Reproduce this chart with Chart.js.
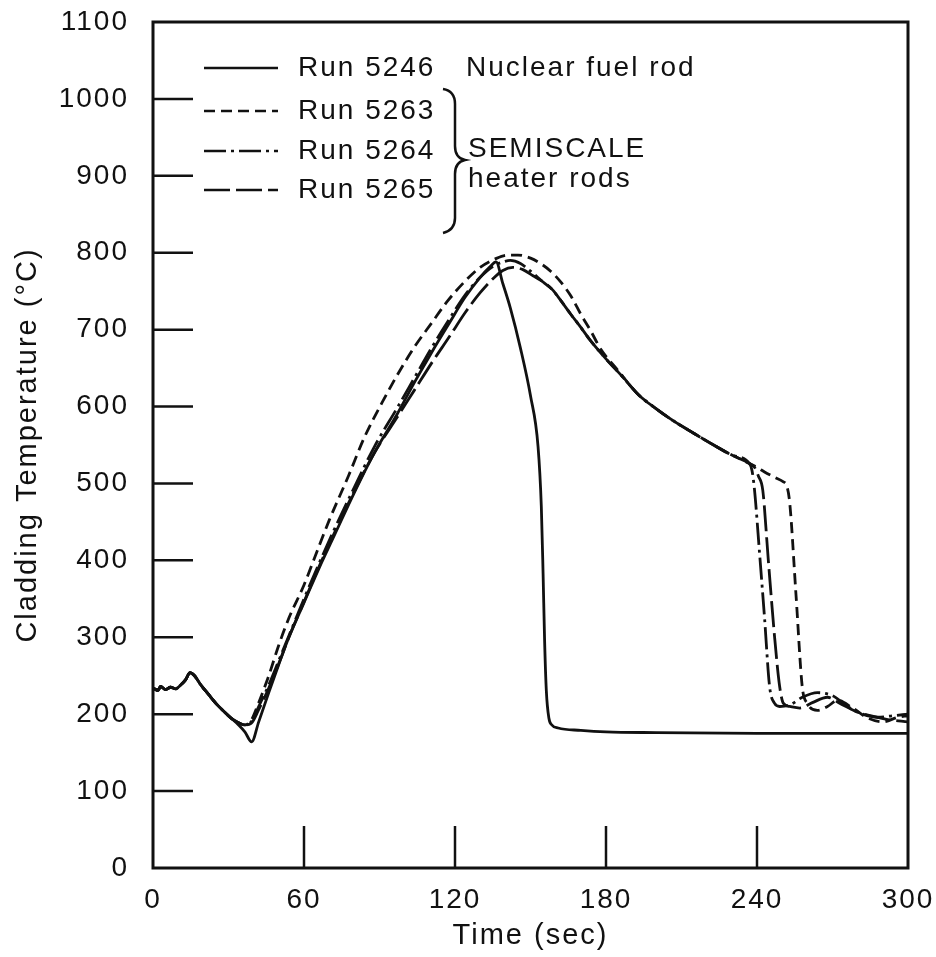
<!DOCTYPE html>
<html>
<head>
<meta charset="utf-8">
<script src="https://cdn.jsdelivr.net/npm/chart.js@4.4.0/dist/chart.umd.min.js"></script>
<style>
  html, body { margin: 0; padding: 0; background: #fff; }
</style>
</head>
<body>
<canvas id="chart" width="936" height="957"></canvas>
<script>
// tick values
const xTicks = [0, 60, 120, 180, 240, 300];
const yTicks = [0, 100, 200, 300, 400, 500, 600, 700, 800, 900, 1000, 1100];

// Run 5246 - nuclear fuel rod (solid)
const time5246 = [0, 2, 3, 5, 7, 9, 11, 13, 14.7, 16.5, 19, 22, 25, 28, 31, 34, 36.5, 39.2, 42, 46, 50, 54, 60, 66, 72, 80, 88, 97, 104, 111, 118, 124, 130, 134, 136.3, 139, 142, 146, 150, 153, 154.3, 155, 155.6, 156.3, 157.3, 158.5, 161, 170, 180, 200, 240, 300];
const temp5246 = [234, 231, 236, 232, 235, 233, 238, 245, 254, 250, 238, 226, 214, 204, 195, 186, 177, 164, 190, 228, 265, 300, 345, 390, 432, 488, 540, 590, 632, 672, 710, 742, 768, 782, 788, 760, 728, 676, 614, 548, 470, 383, 296, 230, 195, 186, 182, 179, 177, 176, 175, 175];

// Run 5263 - heater rod (short dash)
const time5263 = [0, 2, 3, 5, 7, 9, 11, 13, 14.7, 16.5, 19, 22, 25, 28, 31, 34, 36.5, 39, 42, 46, 50, 54, 60, 64.4, 70, 77.7, 84, 91, 97.6, 104, 110.8, 117, 124, 130, 136, 141, 145, 150, 154, 158, 162, 166, 170, 174, 178, 184, 193, 200, 206.5, 215, 223.8, 230, 237, 240, 243, 247, 250.5, 251.7, 253, 255.5, 258, 260, 264, 268, 272, 278, 284, 290, 296, 300];
const temp5263 = [234, 231, 236, 232, 235, 233, 238, 245, 254, 250, 238, 226, 214, 204, 195, 189, 186, 192, 215, 250, 290, 325, 368, 405, 452, 510, 560, 605, 644, 678, 709, 737, 763, 781, 792, 797, 797, 793, 786, 776, 762, 744, 720, 698, 674, 650, 615, 597, 582, 565, 548, 537, 526, 521, 515, 508, 502, 498, 475, 355, 235, 214, 205, 210, 218, 208, 195, 190, 196, 198];

// Run 5264 - heater rod (dash-dot)
const time5264 = [0, 2, 3, 5, 7, 9, 11, 13, 14.7, 16.5, 19, 22, 25, 28, 31, 34, 36.5, 39, 42, 46, 50, 54, 60, 66, 72, 80, 88, 97, 104, 111, 118, 124, 130, 135, 139, 142, 146, 150, 155, 158.7, 162, 166, 170, 173.3, 180, 186.5, 193, 200, 206.5, 215, 223.8, 230, 237, 238, 239, 241, 243, 245, 247, 249, 253, 258, 264, 270, 276, 282, 288, 294, 300];
const temp5264 = [234, 231, 236, 232, 235, 233, 238, 245, 254, 250, 238, 226, 214, 204, 195, 189, 186, 190, 210, 238, 270, 302, 350, 396, 440, 495, 548, 598, 638, 678, 715, 745, 768, 782, 788, 790, 786, 776, 762, 752, 738, 720, 703, 688, 662, 639, 615, 597, 582, 565, 548, 537, 526, 517, 492, 410, 325, 236, 214, 210, 212, 222, 228, 224, 210, 200, 196, 198, 200];

// Run 5265 - heater rod (long dash)
const time5265 = [0, 2, 3, 5, 7, 9, 11, 13, 14.7, 16.5, 19, 22, 25, 28, 31, 34, 36.5, 39, 42, 46, 50, 54, 60, 66, 72, 80, 88, 97, 104, 111, 118, 124, 130, 135, 139, 143, 147, 151, 155, 158.7, 162, 166, 170, 173.3, 180, 186.5, 193, 200, 206.5, 215, 223.8, 230, 237, 239, 240.5, 242.3, 244.5, 247, 249, 250.5, 253, 257, 262, 268, 273, 279, 285, 292, 300];
const temp5265 = [234, 231, 236, 232, 235, 233, 238, 245, 254, 250, 238, 226, 214, 204, 195, 189, 186, 188, 206, 234, 266, 300, 346, 392, 435, 490, 540, 586, 622, 658, 692, 722, 748, 766, 777, 781, 778, 770, 762, 752, 738, 720, 703, 688, 662, 639, 615, 597, 582, 565, 548, 537, 526, 521, 510, 491, 400, 300, 236, 214, 210, 208, 215, 222, 214, 204, 198, 193, 190];

const runLabels = ['Run 5246', 'Run 5263', 'Run 5264', 'Run 5265'];
const runTimes = [time5246, time5263, time5264, time5265];
const runTemps = [temp5246, temp5263, temp5264, temp5265];
const runDashes = [[], [11, 6], [22, 5, 3, 5], [26, 6]];

const FONT = "'Liberation Sans', Arial, Helvetica, sans-serif";
const INK = '#111';

const datasets = runLabels.map((label, i) => ({
    label,
    data: runTimes[i].map((t, j) => ({ x: t, y: runTemps[i][j] })),
    borderColor: INK,
    borderWidth: 2.8,
    borderDash: runDashes[i],
    pointRadius: 0,
    fill: false,
    cubicInterpolationMode: 'monotone',
}));

// the printed figure uses loosely tracked type
const tracking = {
    id: 'tracking',
    beforeLayout(chart) { chart.ctx.letterSpacing = '2px'; },
    beforeDraw(chart) { chart.ctx.letterSpacing = '2px'; },
};

// frame, inward tick marks and the hand-made key
const frameAndKey = {
    id: 'frameAndKey',
    afterDatasetsDraw(chart) {
        const { ctx, chartArea: a, scales: { x, y } } = chart;
        ctx.save();
        ctx.strokeStyle = INK;
        ctx.lineCap = 'butt';

        ctx.lineWidth = 3;
        ctx.strokeRect(a.left, a.top, a.right - a.left, a.bottom - a.top);

        ctx.lineWidth = 2.5;
        yTicks.slice(1, -1).forEach(v => {
            const py = y.getPixelForValue(v);
            ctx.beginPath();
            ctx.moveTo(a.left, py);
            ctx.lineTo(a.left + 40, py);
            ctx.stroke();
        });
        xTicks.slice(1, -1).forEach(v => {
            const px = x.getPixelForValue(v);
            ctx.beginPath();
            ctx.moveTo(px, a.bottom);
            ctx.lineTo(px, a.bottom - 42);
            ctx.stroke();
        });

        // key
        const rows = [68, 111, 151, 190];
        ctx.font = `28px ${FONT}`;
        ctx.letterSpacing = '2px';
        ctx.fillStyle = INK;
        ctx.textBaseline = 'middle';
        runLabels.forEach((label, i) => {
            ctx.setLineDash(runDashes[i]);
            ctx.beginPath();
            ctx.moveTo(204, rows[i]);
            ctx.lineTo(278, rows[i]);
            ctx.stroke();
            ctx.setLineDash([]);
            ctx.fillText(label, 298, rows[i]);
        });
        ctx.fillText('Nuclear fuel rod', 466, rows[0]);
        ctx.fillText('SEMISCALE', 468, 149);
        ctx.fillText('heater rods', 468, 179);

        // brace
        ctx.lineWidth = 2.5;
        ctx.beginPath();
        ctx.moveTo(443, 89);
        ctx.quadraticCurveTo(455, 91, 455, 104);
        ctx.lineTo(455, 146);
        ctx.quadraticCurveTo(455, 158, 465, 160);
        ctx.quadraticCurveTo(455, 162, 455, 174);
        ctx.lineTo(455, 218);
        ctx.quadraticCurveTo(455, 230, 443, 233);
        ctx.stroke();

        ctx.restore();
    }
};

new Chart(document.getElementById('chart').getContext('2d'), {
    type: 'line',
    data: { datasets },
    options: {
        responsive: false,
        animation: false,
        layout: { padding: { top: 22, right: 28, left: 0, bottom: 0 } },
        plugins: {
            legend: { display: false },
            tooltip: { enabled: false },
        },
        scales: {
            x: {
                type: 'linear',
                min: 0,
                max: 300,
                afterBuildTicks: s => { s.ticks = xTicks.map(v => ({ value: v })); },
                afterFit: s => { s.height = 89; s.paddingLeft = 0; s.paddingRight = 0; },
                grid: { display: false, drawTicks: false },
                border: { display: false },
                ticks: { color: INK, font: { family: FONT, size: 28 }, padding: 15, maxRotation: 0, callback: v => String(v) },
                title: { display: true, text: 'Time (sec)', color: INK, font: { family: FONT, size: 29 }, padding: { top: 0, bottom: 4 } },
            },
            y: {
                min: 0,
                max: 1100,
                afterBuildTicks: s => { s.ticks = yTicks.map(v => ({ value: v })); },
                afterFit: s => { s.width = 153; s.paddingTop = 0; s.paddingBottom = 0; },
                grid: { display: false, drawTicks: false },
                border: { display: false },
                ticks: { color: INK, font: { family: FONT, size: 28 }, padding: 24, callback: v => String(v) },
                title: { display: true, text: 'Cladding Temperature (°C)', color: INK, font: { family: FONT, size: 29 }, padding: { top: 11, bottom: 0 } },
            },
        },
    },
    plugins: [tracking, frameAndKey],
});
</script>
</body>
</html>
